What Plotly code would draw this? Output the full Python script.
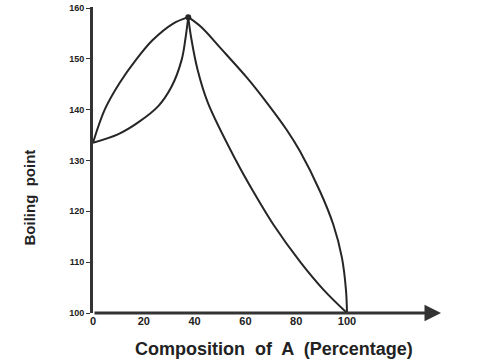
import plotly.graph_objects as go

# Boiling point diagram (maximum-boiling azeotrope)
tick_vals_x = [0, 20, 40, 60, 80, 100]
tick_vals_y = [100, 110, 120, 130, 140, 150, 160]

vap_left_x = [0, 4.7, 10.4, 16.9, 23.5, 31.4, 37.5]
vap_left_y = [133.5, 140.1, 145.2, 149.8, 153.7, 156.9, 158.2]

liq_left_x = [0, 10, 17.8, 25.7, 31, 34.9, 36.4, 37.5]
liq_left_y = [133.5, 135.2, 137.5, 140.7, 144.6, 149.8, 154.0, 158.2]

liq_right_x = [37.5, 38.6, 41.2, 45.2, 56.3, 63.1, 71, 81.5, 90.7, 100]
liq_right_y = [158.2, 154.3, 147.8, 141.4, 130, 123.9, 117.4, 110.1, 104.6, 100]

vap_right_x = [37.5, 42.5, 50.4, 60.6, 68.4, 76.3, 81.5, 89.4, 94.6, 98, 99.6, 100]
vap_right_y = [158.2, 156.3, 152.0, 146.3, 141.4, 136.0, 131.8, 123.9, 117.4, 110.9, 104.5, 100]

azeo_x = [37.5]
azeo_y = [158.2]

line_col = "#262626"
fig = go.Figure()
for xs, ys in [(vap_left_x, vap_left_y), (liq_left_x, liq_left_y),
               (liq_right_x, liq_right_y), (vap_right_x, vap_right_y)]:
    fig.add_trace(go.Scatter(x=xs, y=ys, mode="lines",
                             line=dict(color=line_col, width=2, shape="spline", smoothing=1),
                             showlegend=False, hoverinfo="skip"))
fig.add_trace(go.Scatter(x=azeo_x, y=azeo_y, mode="markers",
                         marker=dict(color=line_col, size=6), showlegend=False))

# x-axis arrow
fig.add_annotation(x=137, y=100, ax=0, ay=100, xref="x", yref="y", axref="x", ayref="y",
                   showarrow=True, arrowhead=2, arrowsize=1.1, arrowwidth=3,
                   arrowcolor="#333333", text="")

# axis titles as annotations
fig.add_annotation(text="Composition  of  A  (Percentage)", xref="paper", yref="paper",
                   x=(274 - 93) / 381, y=-0.118, showarrow=False, yanchor="middle",
                   font=dict(size=18, color="#222222", weight="bold"))
fig.add_annotation(text="Boiling  point", xref="paper", yref="paper",
                   x=(30 - 93) / 381, y=(313 - 196) / 310, showarrow=False, textangle=-90,
                   xanchor="center", yanchor="middle",
                   font=dict(size=15, color="#222222", weight="bold"))

fig.update_layout(
    width=480, height=362,
    margin=dict(l=93, r=6, t=3, b=49),
    plot_bgcolor="white", paper_bgcolor="white",
    font=dict(family="Liberation Sans, Arial", color="#222222"),
    xaxis=dict(range=[0, 150], tickvals=tick_vals_x, showgrid=False, zeroline=False,
               showline=False, ticks="", tickfont=dict(size=11, weight="bold")),
    yaxis=dict(range=[100, 160.2], tickvals=tick_vals_y, showgrid=False, zeroline=False,
               showline=True, linewidth=3, linecolor="#333333", ticks="outside",
               ticklen=4, tickwidth=1, tickcolor="#333333",
               tickfont=dict(size=9, weight="bold"), ticklabeloverflow="allow"),
)

fig.write_html("out.html", config={"displayModeBar": False},
               post_script="document.body.style.margin='0';")
